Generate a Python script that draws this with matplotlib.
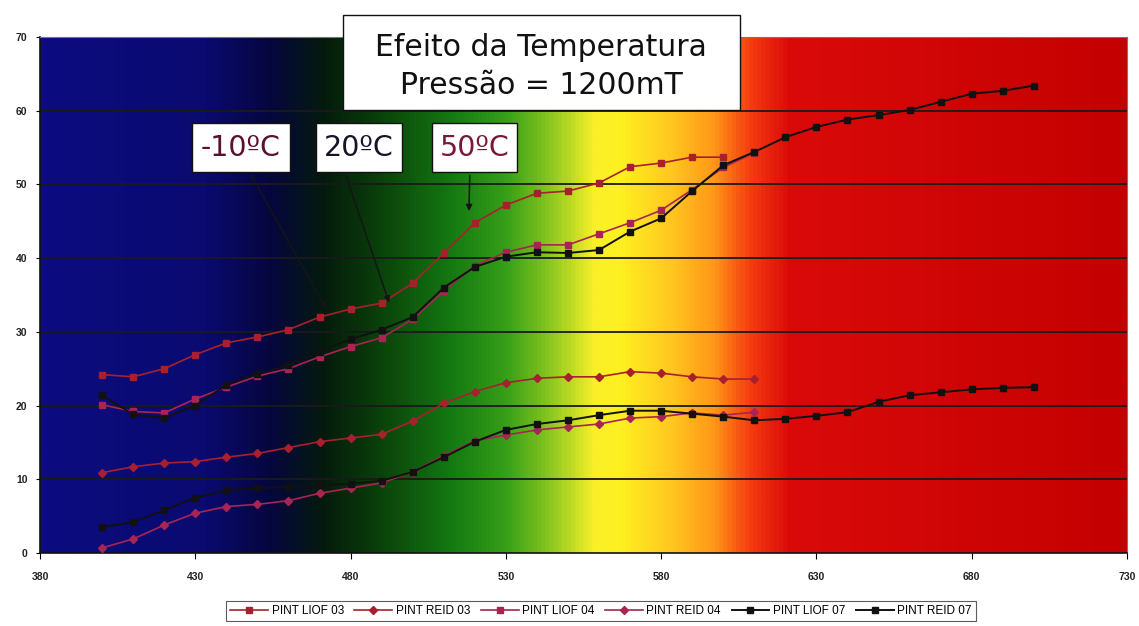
import numpy as np
import matplotlib
matplotlib.use("Agg")
import matplotlib.pyplot as plt
from matplotlib.colors import LinearSegmentedColormap
from matplotlib.patches import Rectangle

# wavelength-like x values, every 10 from 400
x_short = list(range(400, 601, 10))   # 21 points
x_mid = list(range(400, 611, 10))     # 22 points
x_long = list(range(400, 701, 10))    # 31 points

liof_03 = [24.2, 23.9, 25.0, 26.9, 28.5, 29.3, 30.3, 32.0, 33.1, 33.9, 36.6,
           40.7, 44.8, 47.2, 48.8, 49.1, 50.2, 52.4, 52.9, 53.7, 53.7]
reid_03 = [10.9, 11.7, 12.2, 12.4, 13.0, 13.5, 14.3, 15.1, 15.6, 16.1, 17.9,
           20.3, 21.9, 23.1, 23.7, 23.9, 23.9, 24.6, 24.4, 23.9, 23.6, 23.6]
liof_04 = [20.1, 19.2, 19.0, 20.9, 22.5, 24.0, 25.0, 26.6, 28.0, 29.2, 31.7,
           35.5, 39.0, 40.8, 41.8, 41.8, 43.3, 44.8, 46.5, 49.3, 52.3, 54.3]
reid_04 = [0.7, 1.9, 3.8, 5.4, 6.3, 6.6, 7.1, 8.1, 8.8, 9.5, 11.0,
           13.2, 15.2, 16.0, 16.7, 17.1, 17.5, 18.3, 18.5, 19.0, 18.7, 19.1]
liof_07 = [21.4, 18.8, 18.3, 20.0, 22.8, 24.3, 25.5, 27.3, 29.0, 30.3, 32.0,
           36.0, 38.8, 40.2, 40.8, 40.7, 41.1, 43.6, 45.4, 49.1, 52.6, 54.4,
           56.4, 57.8, 58.8, 59.4, 60.1, 61.2, 62.3, 62.7, 63.4]
reid_07 = [3.5, 4.2, 5.8, 7.5, 8.5, 8.8, 9.0, 9.2, 9.4, 9.8, 11.0,
           13.0, 15.1, 16.7, 17.5, 18.0, 18.7, 19.3, 19.3, 18.9, 18.5, 18.0,
           18.2, 18.6, 19.1, 20.5, 21.4, 21.8, 22.2, 22.4, 22.5]

x_ticks = [380, 430, 480, 530, 580, 630, 680, 730]
y_ticks = [0, 10, 20, 30, 40, 50, 60, 70]

RED03 = "#a8202e"
RED04 = "#a82452"
BLACK = "#111111"

W, H = 1139, 626
fig = plt.figure(figsize=(W / 100, H / 100), dpi=100)
fig.patch.set_facecolor("white")
ax = fig.add_axes([40 / W, 1 - 553 / H, 1087 / W, 516 / H])

# spectrum background
stops = [(0.00, "#0c0c80"), (0.15, "#0a0a70"), (0.21, "#06063e"),
         (0.26, "#041a0c"), (0.31, "#0a400a"), (0.38, "#157a12"),
         (0.43, "#38a018"), (0.47, "#8cc820"), (0.51, "#f8f028"),
         (0.535, "#fff020"), (0.58, "#ffc820"), (0.62, "#ff9818"),
         (0.655, "#f53a10"), (0.69, "#da0a0a"), (1.00, "#c40000")]
cmap = LinearSegmentedColormap.from_list("spec", stops)
grad = np.linspace(0, 1, 800).reshape(1, -1)
ax.imshow(grad, cmap=cmap, aspect="auto", extent=(380, 730, 0, 70),
          zorder=0, interpolation="bilinear")

for yv in y_ticks[1:-1]:
    ax.axhline(yv, color="#1a1a1a", lw=1.3, zorder=1)

ax.plot(x_short, liof_03, color=RED03, marker="s", ms=5, lw=1.2, zorder=3,
        label="PINT LIOF 03")
ax.plot(x_mid, reid_03, color=RED03, marker="D", ms=4.5, lw=1.2, zorder=3,
        label="PINT REID 03")
ax.plot(x_mid, liof_04, color=RED04, marker="s", ms=5, lw=1.2, zorder=3,
        label="PINT LIOF 04")
ax.plot(x_mid, reid_04, color=RED04, marker="D", ms=4.5, lw=1.2, zorder=3,
        label="PINT REID 04")
ax.plot(x_long, liof_07, color=BLACK, marker="s", ms=5, lw=1.4, zorder=4,
        label="PINT LIOF 07")
ax.plot(x_long, reid_07, color=BLACK, marker="s", ms=5, lw=1.4, zorder=4,
        label="PINT REID 07")

ax.set_xlim(380, 730)
ax.set_ylim(0, 70)
ax.set_xticks(x_ticks)
ax.set_yticks(y_ticks)
for lab in ax.get_xticklabels() + ax.get_yticklabels():
    lab.set_fontfamily("Liberation Sans")
    lab.set_fontweight("bold")
    lab.set_fontsize(7.5)
    lab.set_color("#222222")
ax.tick_params(axis="x", length=4, pad=10, direction="out")
ax.tick_params(axis="y", length=3, pad=6, direction="out")
for side in ["left", "bottom"]:
    ax.spines[side].set_color("#111111")
    ax.spines[side].set_linewidth(1.2)
for side in ["right", "top"]:
    ax.spines[side].set_color("#777777")

# arrows from temperature labels
arrow = dict(arrowstyle="-|>", color="#151515", lw=1.1, mutation_scale=9)
ax.annotate("", xy=(472.7, 32.7), xytext=(447.6, 51.6), arrowprops=arrow, zorder=5)
ax.annotate("", xy=(492.7, 33.6), xytext=(478.2, 51.6), arrowprops=arrow, zorder=5)
ax.annotate("", xy=(518.1, 46.0), xytext=(518.4, 51.6), arrowprops=arrow, zorder=5)


def fig_box(x0, y0, x1, y1):
    r = Rectangle((x0 / W, 1 - y1 / H), (x1 - x0) / W, (y1 - y0) / H,
                  transform=fig.transFigure, facecolor="white",
                  edgecolor="#111111", lw=1.0, zorder=10)
    fig.add_artist(r)


# title box
fig_box(343, 15, 740, 110)
fig.text(541 / W, 1 - 47 / H, "Efeito da Temperatura", ha="center", va="center",
         fontsize=21.5, family="DejaVu Sans", color="#111111", zorder=11)
fig.text(541 / W, 1 - 86 / H, "Pressão = 1200mT", ha="center", va="center",
         fontsize=21.5, family="DejaVu Sans", color="#111111", zorder=11)

# temperature labels
labels = [("-10ºC", 192, 290, "#5a1030"), ("20ºC", 316, 402, "#15152a"),
          ("50ºC", 432, 517, "#7a1838")]
for txt, x0, x1, col in labels:
    fig_box(x0, 123, x1, 172)
    fig.text((x0 + x1) / 2 / W, 1 - 148 / H, txt, ha="center", va="center",
             fontsize=20.5, family="DejaVu Sans", color=col, zorder=11)

handles, names = ax.get_legend_handles_labels()
leg = fig.legend(handles, names, loc="center", ncol=6,
                 bbox_to_anchor=(601 / W, 1 - 611 / H),
                 prop={"family": "Liberation Sans", "size": 8.5},
                 frameon=True, fancybox=False, edgecolor="#333333",
                 handlelength=3.2, handletextpad=0.3, columnspacing=0.9,
                 borderpad=0.35, markerscale=0.9)
leg.get_frame().set_linewidth(0.8)

fig.savefig("out.png", dpi=100)
